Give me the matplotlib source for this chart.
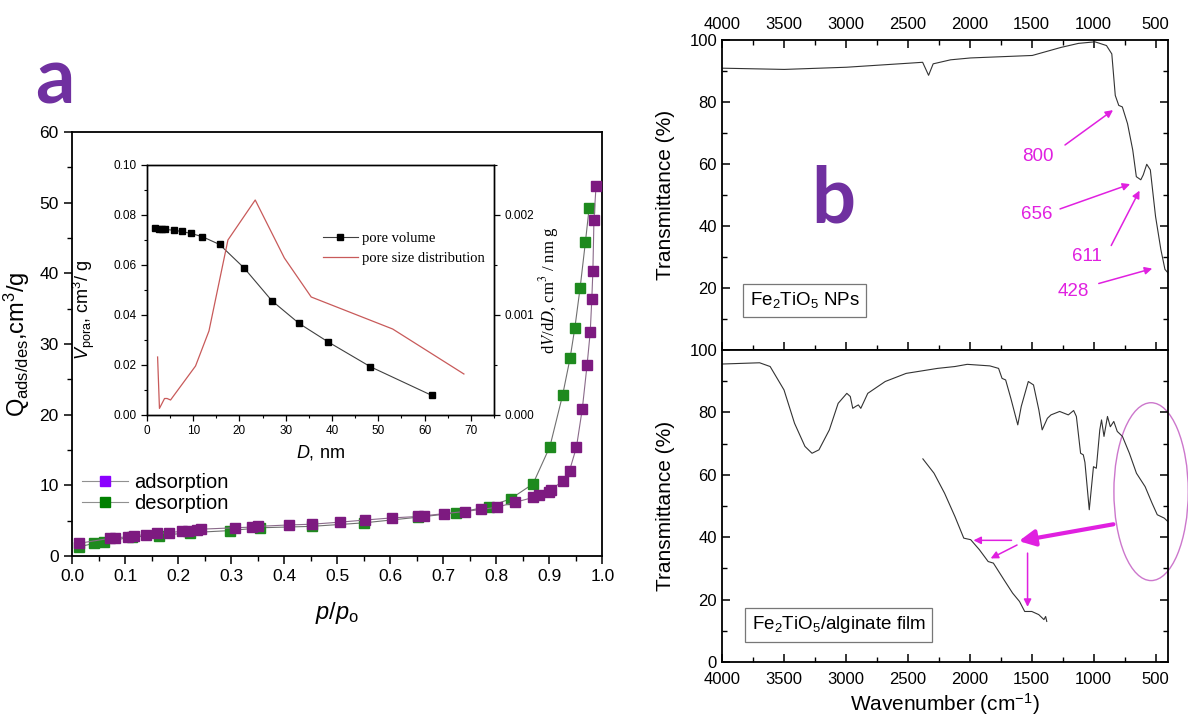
import matplotlib
matplotlib.use("Agg")
import matplotlib.pyplot as plt
from matplotlib.lines import Line2D
from matplotlib.patches import Ellipse
from matplotlib.ticker import MultipleLocator

plt.rcParams['font.family'] = ['Liberation Sans', 'DejaVu Sans']
plt.rcParams['mathtext.fontset'] = 'custom'
plt.rcParams['mathtext.rm'] = 'Liberation Sans'
plt.rcParams['mathtext.it'] = 'Liberation Sans:italic'
plt.rcParams['mathtext.bf'] = 'Liberation Sans:bold'

# -----------------------------
# panel a: N2 isotherm
# -----------------------------
p_ads = [0.013, 0.071, 0.081, 0.106, 0.117, 0.139, 0.160, 0.182, 0.207, 0.218, 0.236,
         0.243, 0.308, 0.340, 0.351, 0.409, 0.452, 0.506, 0.553, 0.604, 0.653, 0.664,
         0.702, 0.740, 0.772, 0.801, 0.835, 0.870, 0.880, 0.900, 0.903, 0.925, 0.938,
         0.951, 0.962, 0.971, 0.977, 0.980, 0.982, 0.984, 0.988]
q_ads = [1.8, 2.5, 2.6, 2.7, 2.9, 3.0, 3.2, 3.3, 3.5, 3.5, 3.7,
         3.8, 4.0, 4.1, 4.2, 4.4, 4.5, 4.8, 5.1, 5.4, 5.6, 5.7,
         6.0, 6.3, 6.6, 6.9, 7.6, 8.3, 8.6, 9.1, 9.4, 10.6, 12.1,
         15.4, 20.8, 27.0, 31.7, 36.4, 40.4, 47.6, 52.4]

p_des = [0.013, 0.042, 0.060, 0.114, 0.164, 0.222, 0.297, 0.355, 0.452, 0.551, 0.653,
         0.724, 0.786, 0.827, 0.869, 0.901, 0.925, 0.939, 0.948, 0.958, 0.968, 0.975]
q_des = [1.3, 1.8, 2.0, 2.7, 2.9, 3.3, 3.6, 4.0, 4.2, 4.7, 5.5,
         6.1, 7.0, 8.1, 10.2, 15.5, 22.8, 28.0, 32.3, 38.0, 44.5, 49.3]

# inset: pore volume and pore size distribution
D_pv = [1.8, 2.5, 3.3, 4.0, 5.8, 7.5, 9.6, 12.0, 15.7, 21.0, 27.0, 32.9, 39.1, 48.3, 61.6]
V_pv = [0.0746, 0.0743, 0.0742, 0.0742, 0.0739, 0.0734, 0.0726, 0.0713, 0.0682,
        0.0588, 0.0457, 0.0366, 0.0293, 0.0193, 0.0078]

D_psd = [2.3, 2.7, 3.8, 4.35, 5.1, 10.5, 13.4, 17.5, 23.4, 29.7, 35.5, 53.1, 68.5]
dVdD = [0.00058, 0.000066, 0.000165, 0.000165, 0.00015, 0.00049, 0.00084,
        0.00175, 0.00215, 0.00157, 0.00118, 0.00086, 0.00041]

# -----------------------------
# panel b: FTIR spectra
# -----------------------------
wn_np = [4000, 3497, 2996, 2493, 2380, 2332, 2295, 2154, 1993, 1495, 1263, 1122, 989,
         896, 853, 825, 797, 768, 726, 684, 655, 619, 599, 571, 542, 500, 457, 424, 400]
T_np = [90.9, 90.5, 91.2, 92.5, 92.8, 88.6, 92.3, 93.6, 94.2, 95.0, 97.6, 98.9, 99.4,
        98.2, 95.5, 82.1, 78.9, 78.4, 73.0, 64.5, 55.9, 54.9, 56.5, 59.9, 58.1, 43.1,
        32.4, 26.0, 24.9]

wn_film = [4000, 3696, 3611, 3499, 3414, 3330, 3273, 3217, 3133, 3062, 2992, 2964, 2944,
           2921, 2899, 2879, 2823, 2682, 2513, 2260, 2119, 2020, 1837, 1767, 1739, 1710,
           1668, 1612, 1584, 1527, 1485, 1442, 1415, 1373, 1344, 1274, 1204, 1161, 1139,
           1105, 1083, 1070, 1035, 1001, 978, 950, 936, 916, 888, 865, 837, 809, 767,
           711, 654, 584, 528, 486, 429, 400]
T_film = [95.5, 95.9, 94.7, 87.2, 76.5, 69.1, 66.9, 68.0, 74.4, 82.9, 86.1, 85.1, 81.3,
          81.9, 82.4, 81.3, 86.1, 89.9, 92.5, 94.1, 94.7, 95.4, 94.9, 94.1, 90.9, 90.4,
          84.5, 76.0, 81.9, 89.9, 88.8, 80.8, 74.4, 78.1, 79.2, 80.3, 79.2, 80.6, 78.7,
          66.9, 66.4, 64.0, 48.8, 62.6, 62.1, 74.4, 77.6, 72.3, 78.7, 75.4, 77.1, 73.9,
          72.3, 66.9, 60.5, 56.2, 50.9, 47.2, 46.1, 45.0]

# magnified low-wavenumber part drawn inside the film plot
wn_mag = [2378, 2288, 2203, 2119, 2048, 1992, 1922, 1851, 1809, 1724, 1654, 1598, 1556,
          1499, 1443, 1401, 1387, 1378]
T_mag = [65.1, 60.5, 54.1, 46.6, 39.7, 39.2, 36.0, 32.2, 31.7, 26.4, 22.1, 19.4, 16.2,
         16.2, 15.2, 13.6, 14.6, 13.0]

peak_labels = ["800", "656", "611", "428"]
peak_text_xy = [(1447, 62.4), (1461, 43.6), (1051, 30.3), (1164, 18.8)]
peak_tail_xy = [(1249, 65.6), (1292, 45.2), (868, 32.9), (980, 21.2)]
peak_head_xy = [(825, 77.9), (684, 53.8), (619, 52.2), (505, 26.5)]

MAG = '#e020e0'
fig = plt.figure(figsize=(11.88, 7.24), dpi=100)

# ---- panel a main axes
ax = fig.add_axes([0.0606, 0.232, 0.4465, 0.5856])
ax.plot(p_ads, q_ads, color='#8a6a8a', lw=0.8, marker='s', ms=7.5,
        mfc='#7d1a80', mec='#7d1a80', zorder=3)
ax.plot(p_des, q_des, color='#707070', lw=0.8, marker='s', ms=7.5,
        mfc='#1e8a1e', mec='#1e8a1e', zorder=2)
ax.set_xlim(0, 1.0)
ax.set_ylim(0, 60)
ax.xaxis.set_minor_locator(MultipleLocator(0.05))
ax.yaxis.set_major_locator(MultipleLocator(10))
ax.yaxis.set_minor_locator(MultipleLocator(5))
ax.set_xticks([i / 10 for i in range(11)])
ax.set_xticklabels([f"{i / 10:.1f}" for i in range(11)])
ax.tick_params(which='major', direction='out', length=6, width=1.1, labelsize=12.5)
ax.tick_params(which='minor', direction='out', length=3.5, width=1.0)
for s in ax.spines.values():
    s.set_linewidth(1.3)
ax.set_xlabel(r'$p/p_{\rm o}$', fontsize=17, labelpad=11)
ax.set_ylabel(r'Q$_{\rm ads/des}$,cm$^3$/g', fontsize=17, labelpad=5)

h_ads = Line2D([], [], color='#909090', lw=0.8, marker='s', ms=7, mfc='#8b00ff', mec='#8b00ff')
h_des = Line2D([], [], color='#909090', lw=0.8, marker='s', ms=7, mfc='#008000', mec='#008000')
ax.legend([h_ads, h_des], ['adsorption', 'desorption'], loc='center left',
          bbox_to_anchor=(0.003, 0.148), frameon=False, fontsize=14.5,
          handlelength=2.3, handletextpad=0.3, labelspacing=0.12, borderaxespad=0)

# ---- inset
ins = fig.add_axes([0.1237, 0.4268, 0.2921, 0.3453])
ins.plot(D_pv, V_pv, color='#404040', lw=0.8, marker='s', ms=4.5,
         mfc='black', mec='black', label='pore volume')
ins.set_xlim(0, 75)
ins.set_ylim(0, 0.10)
ins.xaxis.set_major_locator(MultipleLocator(10))
ins.xaxis.set_minor_locator(MultipleLocator(5))
ins.yaxis.set_minor_locator(MultipleLocator(0.01))
ins.set_yticks([0, 0.02, 0.04, 0.06, 0.08, 0.10])
ins.set_yticklabels(['0.00', '0.02', '0.04', '0.06', '0.08', '0.10'])
ins.tick_params(which='major', direction='out', length=4, width=0.9, labelsize=8.5)
ins.tick_params(which='minor', direction='out', length=2.5, width=0.8)
ins.set_xlabel(r'$D$, nm', fontsize=13, labelpad=4)
ins.set_ylabel(r'$V_{\rm pora}$, cm$^3$/ g', fontsize=13, labelpad=3)
ins.yaxis.set_label_coords(-0.145, 0.42)

tw = ins.twinx()
tw.plot(D_psd, dVdD, color='#c85a5a', lw=0.9, label='pore size distribution')
tw.set_ylim(0, 0.0025)
tw.set_yticks([0, 0.001, 0.002])
tw.set_yticklabels(['0.000', '0.001', '0.002'])
tw.yaxis.set_minor_locator(MultipleLocator(0.0005))
tw.tick_params(which='major', direction='out', length=4, width=0.9, labelsize=8.5)
tw.tick_params(which='minor', direction='out', length=2.5, width=0.8)
tw.set_ylabel(r'd$V$/d$D$, cm$^3$ / nm g', fontsize=12, family='Liberation Serif',
              math_fontfamily='stix', labelpad=2)
for a_ in (ins, tw):
    for s in a_.spines.values():
        s.set_linewidth(1.0)

lines = ins.get_lines() + tw.get_lines()
ins.legend(lines, [l.get_label() for l in lines], loc='center left',
           bbox_to_anchor=(0.49, 0.665), frameon=False,
           prop={'family': 'Liberation Serif', 'size': 10.5},
           handlelength=2.4, handletextpad=0.3, labelspacing=0.45, borderaxespad=0)

fig.text(0.0295, 0.8577, 'a', fontsize=56, fontweight='bold', color='#7030a0',
         family='Lato', va='baseline')

# ---- panel b, top: Fe2TiO5 NPs
axt = fig.add_axes([0.6077, 0.5166, 0.3754, 0.4282])
axt.plot(wn_np, T_np, color='#333333', lw=0.8)
axt.set_xlim(4000, 400)
axt.set_ylim(0, 100)
axt.set_yticks([0, 20, 40, 60, 80, 100])
axt.set_yticklabels(['', '20', '40', '60', '80', '100'])
axt.xaxis.set_major_locator(MultipleLocator(500))
axt.xaxis.set_minor_locator(MultipleLocator(250))
axt.yaxis.set_minor_locator(MultipleLocator(10))
axt.tick_params(which='both', direction='in', top=True, right=True, bottom=True,
                labeltop=True, labelbottom=False, labelsize=12)
axt.tick_params(which='major', length=6, width=1.1)
axt.tick_params(which='minor', length=3.5, width=1.0)
axt.tick_params(axis='x', which='major', pad=6)
axt.set_ylabel('Transmittance (%)', fontsize=15, labelpad=10)
axt.text(3330, 16.1, r'Fe$_2$TiO$_5$ NPs', fontsize=13.5, ha='center', va='center',
         bbox=dict(boxstyle='square,pad=0.35', fc='white', ec='#777777', lw=0.9))
for lab, txy, tail, head in zip(peak_labels, peak_text_xy, peak_tail_xy, peak_head_xy):
    axt.text(txy[0], txy[1], lab, color=MAG, fontsize=13.5, ha='center', va='center')
    axt.annotate('', xy=head, xytext=tail,
                 arrowprops=dict(arrowstyle='-|>', color=MAG, lw=1.1, mutation_scale=11))
fig.text(0.6825, 0.693, 'b', fontsize=56, fontweight='bold', color='#7030a0',
         family='Lato', va='baseline')

# ---- panel b, bottom: Fe2TiO5/alginate film
axb = fig.add_axes([0.6077, 0.0856, 0.3754, 0.431])
axb.plot(wn_film, T_film, color='#333333', lw=0.8)
axb.plot(wn_mag, T_mag, color='#333333', lw=0.8)
axb.set_xlim(4000, 400)
axb.set_ylim(0, 100)
axb.set_yticks([0, 20, 40, 60, 80, 100])
axb.xaxis.set_major_locator(MultipleLocator(500))
axb.xaxis.set_minor_locator(MultipleLocator(250))
axb.yaxis.set_minor_locator(MultipleLocator(10))
axb.tick_params(which='both', direction='in', right=True, top=False, labelsize=12)
axb.tick_params(which='major', length=6, width=1.1)
axb.tick_params(which='minor', length=3.5, width=1.0)
axb.tick_params(axis='x', which='major', pad=7)
axb.set_ylabel('Transmittance (%)', fontsize=15, labelpad=10)
axb.set_xlabel(r'Wavenumber (cm$^{-1}$)', fontsize=15, labelpad=3)
axb.text(3056, 11.9, r'Fe$_2$TiO$_5$/alginate film', fontsize=13.5, ha='center',
         va='center', bbox=dict(boxstyle='square,pad=0.35', fc='white', ec='#777777', lw=0.9))
for a_ in (axt, axb):
    for s in a_.spines.values():
        s.set_linewidth(1.3)

axb.add_patch(Ellipse((536, 54.6), 600, 57, fill=False, ec='#cc77cc', lw=1.0, clip_on=False))
axb.annotate('', xy=(1626, 38.6), xytext=(818, 44.3),
             arrowprops=dict(arrowstyle='-|>', color=MAG, lw=3, mutation_scale=24))
axb.annotate('', xy=(1992, 39.0), xytext=(1640, 39.0),
             arrowprops=dict(arrowstyle='-|>', color=MAG, lw=1.1, mutation_scale=11))
axb.annotate('', xy=(1851, 32.8), xytext=(1598, 37.9),
             arrowprops=dict(arrowstyle='-|>', color=MAG, lw=1.1, mutation_scale=11))
axb.annotate('', xy=(1533, 16.8), xytext=(1533, 35.8),
             arrowprops=dict(arrowstyle='-|>', color=MAG, lw=1.1, mutation_scale=11))

fig.savefig('out.png', dpi=100)
